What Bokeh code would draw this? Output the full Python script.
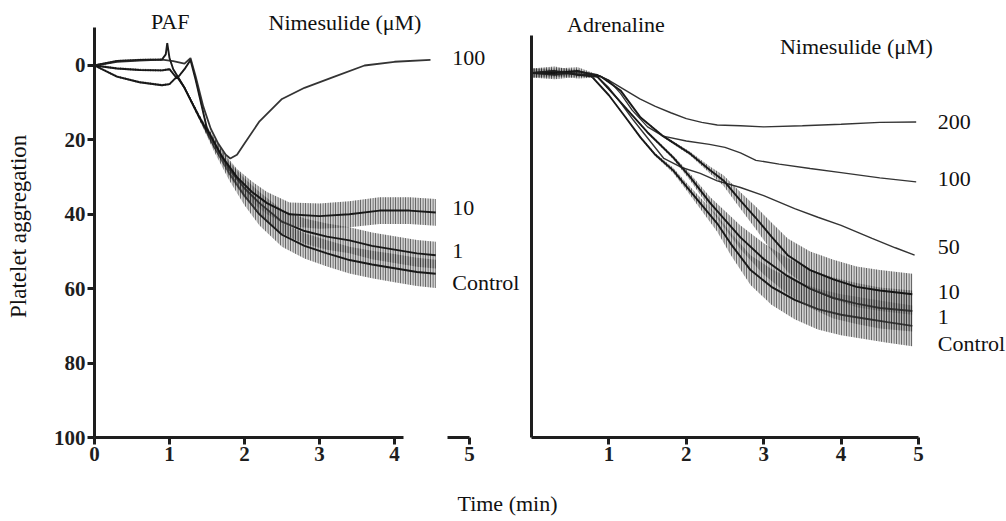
import numpy as np
from bokeh.plotting import figure
from bokeh.layouts import row, column
from bokeh.models import Range1d, FixedTicker, ColumnDataSource
from bokeh.embed import file_html
from bokeh.resources import INLINE
from bokeh.core.properties import value

FONT = "Liberation Serif"
INK = "#1e1e1e"

# ---------------- PAF panel (time in min, aggregation %) ----------------
paf_t_100 = [0, 0.3, 0.6, 0.9, 1.05, 1.2, 1.28, 1.35, 1.45, 1.55, 1.65, 1.75, 1.81, 1.9, 2.0, 2.2, 2.5, 2.8, 3.2, 3.6, 4.0, 4.48]
paf_y_100 = [0, -1, -1.3, -1.6, -1.2, -0.5, -2, 3, 11, 17, 21, 24, 25, 24, 21, 15, 9, 6, 3, 0, -1, -1.5]

paf_t_10 = [0, 0.3, 0.6, 0.9, 1.0, 1.1, 1.2, 1.28, 1.35, 1.5, 1.7, 1.9, 2.1, 2.3, 2.6, 3.0, 3.4, 3.8, 4.2, 4.55]
paf_y_10 = [0, 0.8, 1.2, 1.3, 1.0, 3.5, 1, -1.5, 4, 17, 24.5, 30, 34, 37, 40, 40.5, 40, 39, 39, 39.5]
paf_n_10 = [0.3, 0.3, 0.3, 0.3, 0.3, 0.3, 0.3, 0.3, 0.5, 0.8, 1.5, 2.2, 2.8, 3.0, 3.2, 3.4, 3.5, 3.6, 3.6, 3.6]

paf_t_1 = [0, 0.3, 0.6, 0.9, 1.0, 1.1, 1.2, 1.4, 1.6, 1.8, 2.0, 2.2, 2.5, 2.8, 3.1, 3.4, 3.7, 4.0, 4.3, 4.55]
paf_y_1 = [0, 3, 4.5, 5.3, 5, 3, 6, 14, 21, 28, 33, 37, 42, 44.5, 46, 47, 48.5, 49.5, 50.5, 51]
paf_n_1 = [0.3, 0.3, 0.3, 0.3, 0.3, 0.3, 0.4, 0.7, 1.3, 2.0, 2.6, 3.0, 3.2, 3.4, 3.5, 3.5, 3.6, 3.6, 3.6, 3.6]

paf_t_c = [0, 0.3, 0.6, 0.9, 0.95, 0.97, 1.0, 1.05, 1.2, 1.4, 1.6, 1.8, 2.0, 2.2, 2.5, 2.8, 3.1, 3.4, 3.7, 4.0, 4.3, 4.55]
paf_y_c = [0, -1.2, -1.5, -1.6, -3, -6, -2, 1, 6, 14, 22, 29, 35, 40, 45.5, 48.5, 50.5, 52.3, 53.5, 54.5, 55.5, 56]
paf_n_c = [0.3, 0.3, 0.3, 0.3, 0.3, 0.3, 0.3, 0.3, 0.4, 0.7, 1.3, 2.0, 2.6, 3.0, 3.2, 3.4, 3.5, 3.6, 3.7, 3.8, 3.8, 3.8]

paf_labels = ["100", "10", "1", "Control"]
paf_label_y = [-1.9, 38.2, 50.0, 58.3]

# ---------------- Adrenaline panel ----------------
adr_t_200 = [0, 0.3, 0.6, 0.85, 1.0, 1.2, 1.4, 1.6, 1.8, 2.0, 2.2, 2.4, 2.7, 3.0, 3.5, 4.0, 4.5, 4.97]
adr_y_200 = [2, 1.5, 2.5, 2.5, 4, 6.5, 9, 11, 12.7, 14.3, 15.3, 16, 16.2, 16.5, 16.2, 15.8, 15.3, 15.2]

adr_t_100 = [0, 0.3, 0.6, 0.85, 1.0, 1.15, 1.3, 1.5, 1.7, 2.0, 2.3, 2.5, 2.7, 2.9, 3.2, 3.6, 4.0, 4.5, 4.97]
adr_y_100 = [2, 2.5, 1.5, 2.5, 4, 7.5, 12, 16.5, 19, 20.3, 21.2, 22, 23.5, 25.5, 26.5, 27.7, 28.8, 30.2, 31.3]

adr_t_50 = [0, 0.3, 0.6, 0.85, 1.0, 1.15, 1.32, 1.5, 1.71, 1.95, 2.18, 2.4, 2.7, 3.0, 3.4, 3.7, 4.0, 4.4, 4.7, 4.95]
adr_y_50 = [2, 1.5, 2.5, 3, 6, 10, 14.8, 19.5, 25, 27.5, 29, 31, 32.8, 35, 38.5, 40.8, 43, 46.5, 49, 51]

adr_t_10 = [0, 0.3, 0.6, 0.9, 1.15, 1.41, 1.7, 2.05, 2.3, 2.48, 2.7, 2.9, 3.1, 3.31, 3.6, 3.9, 4.2, 4.5, 4.92]
adr_y_10 = [2, 2, 1.5, 3, 6.7, 14, 19, 23.7, 28, 30.9, 36.3, 41, 46, 51, 55, 57.5, 59.5, 60.5, 61.5]
adr_n_10 = [1.2, 1.2, 1.0, 0.2, 0.2, 0.2, 0.3, 0.5, 0.9, 1.4, 2.2, 3.0, 3.8, 4.5, 5.0, 5.3, 5.5, 5.5, 5.5]

adr_t_1 = [0, 0.3, 0.6, 0.85, 1.05, 1.28, 1.5, 1.83, 2.05, 2.31, 2.5, 2.7, 3.0, 3.3, 3.6, 3.9, 4.2, 4.5, 4.92]
adr_y_1 = [2, 1.5, 2.5, 3, 7.5, 12.9, 18, 24.7, 30, 37, 41.5, 46.2, 52, 56.5, 60, 62.5, 64, 65.2, 66]
adr_n_1 = [1.2, 1.2, 1.0, 0.2, 0.2, 0.2, 0.3, 0.5, 0.9, 1.6, 2.4, 3.2, 4.2, 4.8, 5.2, 5.5, 5.5, 5.5, 5.5]

adr_t_c = [0, 0.3, 0.6, 0.78, 1.0, 1.2, 1.41, 1.6, 1.83, 2.0, 2.18, 2.4, 2.57, 2.83, 3.1, 3.4, 3.7, 4.0, 4.3, 4.6, 4.92]
adr_y_c = [2, 2.5, 2, 3, 8, 13.5, 19.4, 24, 28.2, 32.5, 37, 42.5, 47.8, 55, 59.5, 63, 65.5, 67, 68, 69, 70]
adr_n_c = [1.2, 1.2, 1.0, 0.2, 0.2, 0.2, 0.3, 0.4, 0.7, 1.0, 1.5, 2.2, 3.0, 4.0, 4.8, 5.2, 5.5, 5.5, 5.5, 5.5, 5.5]

adr_labels = ["200", "100", "50", "10", "1", "Control"]
adr_label_y = [15.3, 30.6, 48.9, 61.0, 67.7, 74.7]

y_ticks = [0, 20, 40, 60, 80, 100]
paf_x_ticks = [0, 1, 2, 3, 4]
paf_x_ticks_break = [5]
adr_x_ticks = [1, 2, 3, 4, 5]

Y_TOP = -17.47   # value at the top edge of the panels
H = 478          # height of the panel row
BOTTOM = 41      # room under the x axis


def style_axis(ax, ticks, bounds):
    ax.ticker = FixedTicker(ticks=ticks)
    ax.bounds = bounds
    ax.axis_line_width = 3
    ax.axis_line_color = INK
    ax.major_tick_line_width = 3
    ax.major_tick_line_color = INK
    ax.major_tick_out = 7
    ax.major_tick_in = 0
    ax.minor_tick_out = 0
    ax.minor_tick_in = 0
    ax.major_label_text_font = FONT
    ax.major_label_text_font_size = "21px"
    ax.major_label_text_font_style = "bold"
    ax.major_label_text_color = INK
    ax.major_label_standoff = 2


def base_fig(width, left_border, x0, x1, y_axis=True):
    p = figure(width=width, height=H, x_range=Range1d(x0, x1), y_range=Range1d(100, Y_TOP),
               output_backend="svg", toolbar_location=None,
               y_axis_location="left" if y_axis else None,
               min_border_left=left_border, min_border_right=0, min_border_top=0,
               min_border_bottom=BOTTOM)
    p.grid.visible = False
    p.outline_line_color = None
    p.background_fill_color = "white"
    p.border_fill_color = "white"
    return p


def clean(p, t, y, w=1.4):
    p.line(t, y, line_color=INK, line_width=w, line_alpha=0.9)


def noisy(p, t, y, n):
    t = np.asarray(t, float); y = np.asarray(y, float); n = np.asarray(n, float)
    p.varea(x=t, y1=y - n, y2=y + n, fill_color="#7a7a7a", fill_alpha=0.35,
            hatch_pattern="|", hatch_color="#151515", hatch_alpha=0.7, hatch_scale=2.5, hatch_weight=1)
    p.line(t, y, line_color="#111111", line_width=1.9, line_alpha=0.95)


def add_text(p, xs, ys, texts, align="left", size="22px", angle=0.0):
    src = ColumnDataSource(dict(x=xs, y=ys, text=texts))
    p.text(x="x", y="y", text="text", source=src, text_font=value(FONT), text_font_size=size,
           text_color="#111111", text_align=align, text_baseline="middle", angle=angle)


# ---- y title strip ----
p0 = figure(width=36, height=H, x_range=Range1d(0, 36), y_range=Range1d(0, H),
            output_backend="svg", toolbar_location=None, x_axis_location=None, y_axis_location=None,
            min_border_left=0, min_border_right=0, min_border_top=0, min_border_bottom=0)
p0.grid.visible = False
p0.outline_line_color = None
add_text(p0, [18], [H - 247], ["Platelet aggregation"], align="center", size="23px", angle=np.pi / 2)

# ---- left panel, main part ----
p1 = base_fig(401, 58, 0, 343 / 75.0)
style_axis(p1.xaxis[0], paf_x_ticks, (0, 4.12))
style_axis(p1.yaxis[0], y_ticks, (-10.2, 100))
noisy(p1, paf_t_c, paf_y_c, paf_n_c)
noisy(p1, paf_t_1, paf_y_1, paf_n_1)
noisy(p1, paf_t_10, paf_y_10, paf_n_10)
clean(p1, paf_t_100, paf_y_100, 1.8)
add_text(p1, [1.01], [-11.8], ["PAF"], align="center")
add_text(p1, [2.32], [-11.6], ["Nimesulide (\u03bcM)"])

# ---- left panel, after the axis break ----
p1b = base_fig(85, 0, 343 / 75.0, 428 / 75.0, y_axis=False)
style_axis(p1b.xaxis[0], paf_x_ticks_break, (4.71, 5))
add_text(p1b, [4.77] * len(paf_labels), paf_label_y, paf_labels)

# ---- right panel ----
p2 = base_fig(484, 9, 0, 475 / 77.4)
style_axis(p2.xaxis[0], adr_x_ticks, (0, 5))
style_axis(p2.yaxis[0], [], (-8.1, 100))
p2.yaxis[0].major_tick_out = 0
p2.yaxis[0].major_label_standoff = 0
p2.yaxis[0].major_label_text_font_size = "0px"
noisy(p2, adr_t_c, adr_y_c, adr_n_c)
noisy(p2, adr_t_1, adr_y_1, adr_n_1)
noisy(p2, adr_t_10, adr_y_10, adr_n_10)
clean(p2, adr_t_50, adr_y_50)
clean(p2, adr_t_100, adr_y_100)
clean(p2, adr_t_200, adr_y_200)
add_text(p2, [5.25] * len(adr_labels), adr_label_y, adr_labels)
add_text(p2, [0.46], [-11.0], ["Adrenaline"])
add_text(p2, [3.21], [-5.1], ["Nimesulide (\u03bcM)"])

# ---- shared x title ----
p3 = figure(width=1006, height=43, x_range=Range1d(0, 1006), y_range=Range1d(0, 43),
            output_backend="svg", toolbar_location=None, x_axis_location=None, y_axis_location=None,
            min_border_left=0, min_border_right=0, min_border_top=0, min_border_bottom=0)
p3.grid.visible = False
p3.outline_line_color = None
add_text(p3, [507], [18], ["Time (min)"], align="center")

layout = column(row(p0, p1, p1b, p2), p3)
open("out.html", "w").write(file_html(layout, INLINE))
